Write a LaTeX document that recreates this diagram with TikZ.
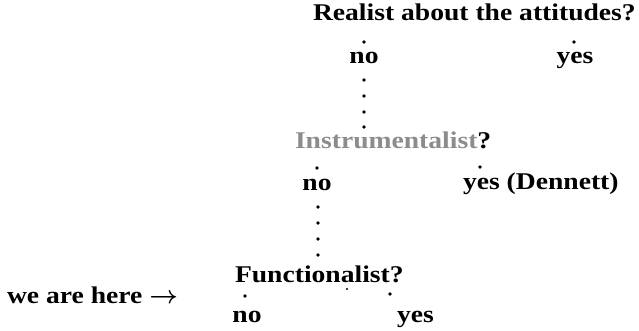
\documentclass[tikz,border=0pt]{standalone}
\usepackage{fontspec}
\setmainfont{Liberation Serif}[FakeStretch=1.15]
\tikzset{
  lbl/.style={inner sep=0pt, outer sep=0pt, font=\fontsize{24}{28}\selectfont\bfseries, anchor=base},
  lblw/.style={lbl, anchor=base west},
  dotmark/.style={circle, fill=black, inner sep=0pt, minimum size=3.8pt}
}
\begin{document}
\begin{tikzpicture}[x=1pt,y=-1pt]
\useasboundingbox (0,0) rectangle (639,330);
% level 1
\node[lblw] (q1) at (313,20) {Realist about the attitudes?};
\node[dotmark] (d1n) at (364,42) {};
\node[dotmark] (d1y) at (574,42) {};
\node[lbl] (no1) at (364,63) {no};
\node[lbl] (yes1) at (575,63) {yes};
\foreach \y/\n in {80/a,96/b,112/c,127/d} \node[dotmark] (v1\n) at (364,\y) {};
% level 2
\node[lblw] (q2) at (295,148) {\textcolor{black!45}{Instrumentalist}?};
\node[dotmark] (d2n) at (317,168) {};
\node[dotmark] (d2y) at (480,167) {};
\node[lbl] (no2) at (317,190) {no};
\node[lblw] (yes2) at (463,189) {yes (Dennett)};
\foreach \y/\n in {207/a,223/b,239/c,255/d} \node[dotmark] (v2\n) at (318,\y) {};
% level 3
\node[lblw] (q3) at (235,282) {Functionalist?};
\node[dotmark] (d3n) at (245,296) {};
\node[dotmark, minimum size=2.4pt] (d3m) at (347,289) {};
\node[dotmark] (d3y) at (390,294) {};
\node[lbl] (no3) at (247,322) {no};
\node[lblw] (yes3) at (397,322) {yes};
\node[lblw] (here) at (7,303) {we are here\hspace{7pt}{\boldmath$\rightarrow$}};
\end{tikzpicture}
\end{document}
